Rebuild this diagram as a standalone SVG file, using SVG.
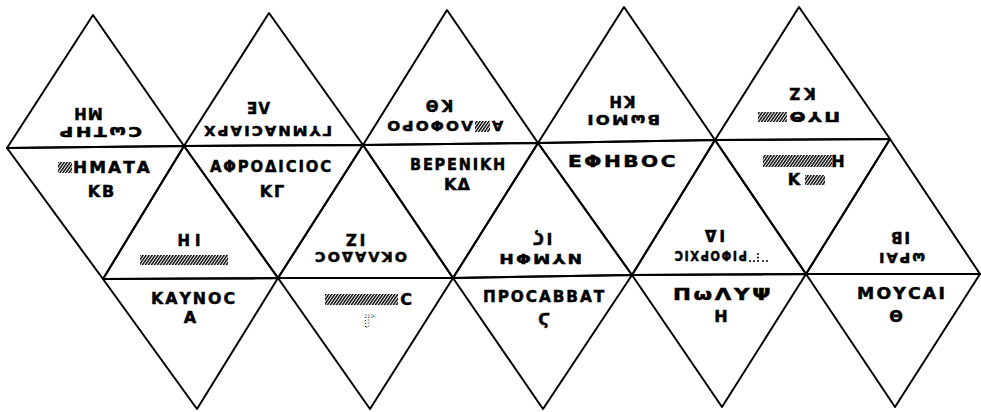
<svg xmlns="http://www.w3.org/2000/svg" width="981" height="412" viewBox="0 0 981 412">
<defs>
<pattern id="hatch" patternUnits="userSpaceOnUse" width="3" height="14" patternTransform="skewX(-35)">
<rect width="1.7" height="14" fill="#000"/>
</pattern>
<style>
.f{fill:none;stroke:#000;stroke-width:2;stroke-linejoin:round}
.u{font-family:"DejaVu Sans","Noto Sans",sans-serif;font-weight:bold;font-size:16px;fill:#000;stroke:#000;stroke-width:0.5;text-anchor:middle;letter-spacing:2px}
.r{font-family:"DejaVu Sans","Noto Sans",sans-serif;font-weight:bold;font-size:14.5px;fill:#000;stroke:#000;stroke-width:0.5;text-anchor:middle;letter-spacing:2px}
.n{font-family:"DejaVu Sans","Noto Sans",sans-serif;font-weight:bold;font-size:15px;fill:#000;stroke:#000;stroke-width:0.5;text-anchor:middle;letter-spacing:1px}
.h{fill:url(#hatch)}
.d{fill:none;stroke:#000;stroke-width:1;stroke-dasharray:1 2}
</style>
</defs>
<rect width="981" height="412" fill="#fff"/>

<!-- top row (upside-down texts) -->
<g id="face-t1">
<polygon class="f" points="93,15 7,148 184,146"/>
<text class="n" transform="rotate(180 88 113)" x="88" y="118.5">ΜΗ</text>
<text class="r" transform="rotate(180 99.5 132.5)" x="99.5" y="137.8" textLength="85" lengthAdjust="spacingAndGlyphs">ϹωΤΗΡ</text>
</g>
<g id="face-t2">
<polygon class="f" points="269,13 184,146 363,145"/>
<text class="n" transform="rotate(180 258 107)" x="258" y="112.5">ΛΕ</text>
<text class="r" transform="rotate(180 267 131)" x="267" y="136.3" textLength="130" lengthAdjust="spacingAndGlyphs">ΓΥΜΝΑϹΙΑΡΧ</text>
</g>
<g id="face-t3">
<polygon class="f" points="447,10 363,145 538,143"/>
<text class="n" transform="rotate(180 438 105)" x="438" y="110.5" style="letter-spacing:3px">ΚΘ</text>
<text class="r" transform="rotate(180 496.5 126.5)" x="496.5" y="131.8">Α</text>
<rect class="h" x="475" y="121" width="15" height="11"/>
<text class="r" transform="rotate(180 429 126.5)" x="429" y="131.8" textLength="88" lengthAdjust="spacingAndGlyphs">ΛΟΦΟΡΟ</text>
</g>
<g id="face-t4">
<polygon class="f" points="624,7 538,143 715,140"/>
<text class="n" transform="rotate(180 621.5 101)" x="621.5" y="106.5" style="letter-spacing:2px">ΚΗ</text>
<text class="r" transform="rotate(180 622.5 120)" x="622.5" y="125.3" textLength="75" lengthAdjust="spacingAndGlyphs">ΒωΜΟΙ</text>
</g>
<g id="face-t5">
<polygon class="f" points="799,7 715,140 890,139"/>
<text class="n" transform="rotate(180 800.5 93)" x="800.5" y="98.5" style="letter-spacing:4px">ΚΖ</text>
<text class="r" transform="rotate(180 813.5 117)" x="813.5" y="122.3" textLength="53" lengthAdjust="spacingAndGlyphs">ΠΥΘ</text>
<rect class="h" x="758" y="112" width="29" height="10"/>
</g>

<!-- middle row -->
<g id="face-m1">
<polygon class="f" points="7,148 184,146 103,279"/>
<rect class="h" x="58" y="162" width="14" height="11"/>
<text class="u" x="112.5" y="173" textLength="79" lengthAdjust="spacingAndGlyphs">ΗΜΑΤΑ</text>
<text class="n" x="102" y="197" style="font-size:16px;letter-spacing:2px">ΚΒ</text>
</g>
<g id="face-m2">
<polygon class="f" points="184,146 103,279 278,278"/>
<text class="n" transform="rotate(180 186.5 239)" x="186.5" y="244.5" style="letter-spacing:5px">ΙΗ</text>
<rect class="h" x="140" y="255" width="88" height="10"/>
</g>
<g id="face-m3">
<polygon class="f" points="184,146 363,145 278,278"/>
<text class="u" x="271.5" y="172" textLength="123" lengthAdjust="spacingAndGlyphs">ΑΦΡΟΔΙϹΙΟϹ</text>
<text class="n" x="273" y="197" style="font-size:16px;letter-spacing:2px">ΚΓ</text>
</g>
<g id="face-m4">
<polygon class="f" points="363,145 278,278 453,278"/>
<text class="n" transform="rotate(180 354 239.5)" x="354" y="245" style="letter-spacing:3px">ΙΖ</text>
<text class="r" transform="rotate(180 360 257.5)" x="360" y="262.8" textLength="94" lengthAdjust="spacingAndGlyphs">ΟΚΛΑΔΟϹ</text>
</g>
<g id="face-m5">
<polygon class="f" points="363,145 538,143 453,278"/>
<text class="u" x="458.5" y="170" textLength="97" lengthAdjust="spacingAndGlyphs">ΒΕΡΕΝΙΚΗ</text>
<text class="n" x="457.5" y="190" style="font-size:16px;letter-spacing:1px">ΚΔ</text>
</g>
<g id="face-m6">
<polygon class="f" points="538,143 453,278 632,275"/>
<text class="n" transform="rotate(180 541 238)" x="541" y="243.5" style="letter-spacing:3px">ΙϚ</text>
<text class="r" transform="rotate(180 539.5 259)" x="539.5" y="264.3" textLength="85" lengthAdjust="spacingAndGlyphs">ΝΥΜΦΗ</text>
</g>
<g id="face-m7">
<polygon class="f" points="538,143 715,140 632,275"/>
<text class="u" x="623" y="167" textLength="110" lengthAdjust="spacingAndGlyphs">ΕΦΗΒΟϹ</text>
</g>
<g id="face-m8">
<polygon class="f" points="715,140 632,275 806,274"/>
<text class="n" transform="rotate(180 713.5 235)" x="713.5" y="240.5" style="letter-spacing:3px">ΙΔ</text>
<text class="r" transform="rotate(180 710 256)" x="710" y="261.3" textLength="74" lengthAdjust="spacingAndGlyphs">ΡΙΦΟΡΧΙϹ</text>
<g fill="#000">
<circle cx="750" cy="261" r="1"/><circle cx="754" cy="261" r="1"/><circle cx="758" cy="254" r="1"/><circle cx="758" cy="257.5" r="1"/><circle cx="758" cy="261" r="1"/><circle cx="763" cy="261" r="1"/><circle cx="767" cy="261" r="1"/>
</g>
</g>
<g id="face-m9">
<polygon class="f" points="715,140 890,139 806,274"/>
<rect class="h" x="763" y="155" width="69" height="12"/>
<text class="u" x="839" y="167">Η</text>
<text class="u" x="795" y="185">Κ</text>
<rect class="h" x="805" y="175" width="20" height="10"/>
</g>
<g id="face-m10">
<polygon class="f" points="890,139 806,274 980,274"/>
<text class="n" transform="rotate(180 899.5 237.5)" x="899.5" y="243" style="letter-spacing:2px">ΙΒ</text>
<text class="r" transform="rotate(180 901 258.5)" x="901" y="263.8" textLength="48" lengthAdjust="spacingAndGlyphs">ωΡΑΙ</text>
</g>

<!-- bottom row -->
<g id="face-b1">
<polygon class="f" points="103,279 278,278 197,409"/>
<text class="u" x="194" y="304" textLength="86" lengthAdjust="spacingAndGlyphs">ΚΑΥΝΟϹ</text>
<text class="u" x="191" y="323">Α</text>
</g>
<g id="face-b2">
<polygon class="f" points="278,278 453,278 370,409"/>
<rect class="h" x="325" y="294" width="73" height="11"/>
<text class="u" x="407" y="305">Ϲ</text>
<text class="u d" x="370" y="327">Γ</text>
</g>
<g id="face-b3">
<polygon class="f" points="453,278 632,275 543,409"/>
<text class="u" x="544.5" y="302" textLength="123" lengthAdjust="spacingAndGlyphs">ΠΡΟϹΑΒΒΑΤ</text>
<text class="u" x="545" y="325">Ϛ</text>
</g>
<g id="face-b4">
<polygon class="f" points="632,275 806,274 722,407"/>
<text class="u" x="723" y="300" textLength="100" lengthAdjust="spacingAndGlyphs">ΠωΛΥΨ</text>
<text class="u" x="722" y="322">Η</text>
</g>
<g id="face-b5">
<polygon class="f" points="806,274 980,274 895,407"/>
<text class="u" x="902" y="299" textLength="90" lengthAdjust="spacingAndGlyphs">ΜΟΥϹΑΙ</text>
<text class="u" x="897" y="322">Θ</text>
</g>
</svg>
